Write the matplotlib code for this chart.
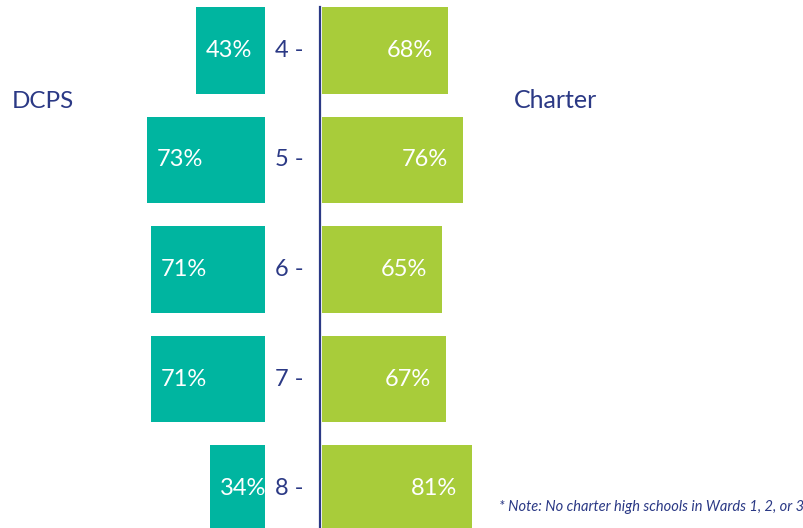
import matplotlib.pyplot as plt
from matplotlib.lines import Line2D

grades = ['4', '5', '6', '7', '8']
dcps = [43, 73, 71, 71, 34]
charter = [68, 76, 65, 67, 81]

teal = '#00b5a0'
green = '#a8cc3a'
navy = '#2b3985'
font = 'Lato'

fig = plt.figure(figsize=(8.04, 5.28), dpi=100)
W, H = 804, 528

# y axis: grade index, bars ~110 px apart, first centre at 50px from top
ylim = (4.36, -0.46)
pos = list(range(len(grades)))

# left (DCPS) axes, bars grow to the left
axl = fig.add_axes([0, 0, 265 / W, 1])
axl.barh(pos, dcps, height=0.79, color=teal)
axl.set_xlim(164.6, 0)
axl.set_ylim(*ylim)
axl.axis('off')
for y, v in zip(pos, dcps):
    axl.text(v - 6, y, f'{v}%', ha='left', va='center', color='white',
             fontsize=17, family=font)

# right (Charter) axes
axr = fig.add_axes([322 / W, 0, 482 / W, 1])
axr.barh(pos, charter, height=0.79, color=green)
axr.set_xlim(0, 260.5)
axr.set_ylim(*ylim)
axr.axis('off')
for y, v in zip(pos, charter):
    axr.text(v - 8, y, f'{v}%', ha='right', va='center', color='white',
             fontsize=17, family=font)

# grade labels in the gap
for y, g in zip(pos, grades):
    axr.text(-17.5, y, f'{g} -', ha='center', va='center', color=navy,
             fontsize=17, family=font, clip_on=False)

# centre divider
fig.add_artist(Line2D([320.5 / W, 320.5 / W], [0, 1 - 7 / H],
                      color=navy, linewidth=1.6))

fig.text(12 / W, 1 - 102 / H, 'DCPS', ha='left', va='center', color=navy,
         fontsize=17.5, family=font)
fig.text(514 / W, 1 - 101 / H, 'Charter', ha='left', va='center', color=navy,
         fontsize=18, family=font)
fig.text(499 / W, 1 - 507 / H, '* Note: No charter high schools in Wards 1, 2, or 3',
         ha='left', va='center', color=navy, fontsize=10.5, style='italic',
         family=font)

fig.savefig('out.png', dpi=100)
